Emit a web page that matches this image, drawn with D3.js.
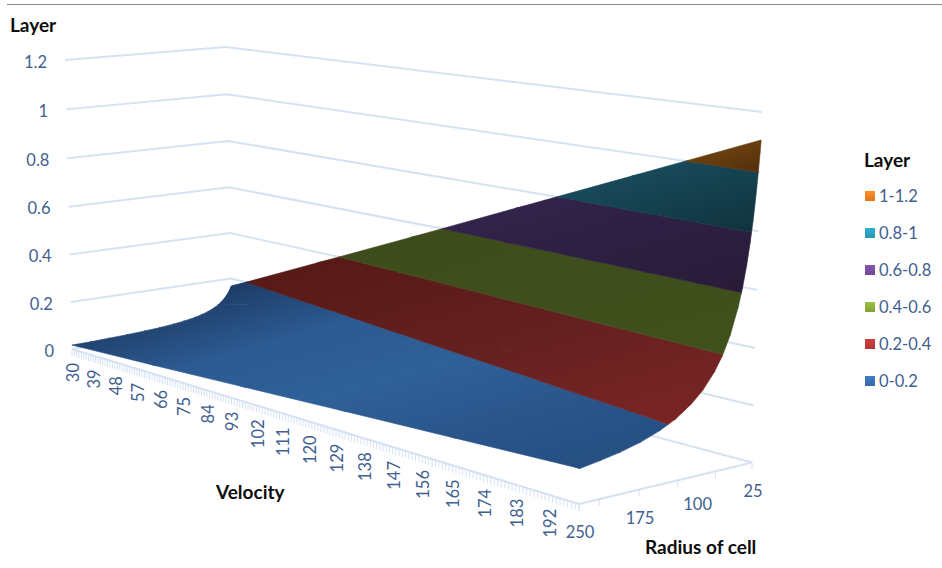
<!DOCTYPE html>
<html>
<head>
<meta charset="utf-8">
<style>
  html, body { margin: 0; padding: 0; background: #fff; }
  svg { display: block; }
  text { font-family: Lato, "Open Sans", sans-serif; }
</style>
</head>
<body>
<svg id="chart" width="942" height="568"></svg>
<script src="https://d3js.org/d3.v7.min.js"></script>
<script>
// Axis categories
const velocityLabels = [30, 39, 48, 57, 66, 75, 84, 93, 102, 111, 120, 129, 138, 147, 156, 165, 174, 183, 192];
const radiusLabels = [25, 100, 175, 250];
const radiusTicks = [25, 75, 125, 175, 225, 250];
const layerTicks = [0, 0.2, 0.4, 0.6, 0.8, 1, 1.2];

// Surface samples: one column per radius, one list per velocity
const radii = [25, 26, 28, 30, 33, 36, 40, 45, 50, 60, 70, 80, 95, 110, 130, 150, 175, 200, 225, 250];
const velocities = [30, 64, 98, 132, 166, 200];
const layerAt30  = [.166, .160, .148, .138, .126, .115, .104, .092, .083, .069, .059, .052, .044, .038, .032, .028, .024, .021, .018, .017];
const layerAt64  = [.354, .341, .316, .295, .268, .246, .222, .197, .177, .148, .127, .111, .093, .081, .068, .059, .051, .044, .039, .036];
const layerAt98  = [.542, .522, .484, .452, .411, .377, .339, .301, .271, .226, .194, .170, .143, .123, .104, .090, .077, .068, .060, .057];
const layerAt132 = [.731, .703, .652, .609, .554, .508, .457, .406, .365, .305, .261, .228, .192, .166, .141, .122, .104, .092, .084, .078];
const layerAt166 = [.919, .883, .820, .766, .696, .638, .574, .510, .459, .383, .328, .287, .242, .209, .177, .153, .132, .117, .106, .098];
const layerAt200 = [1.107, 1.065, .989, .923, .839, .769, .692, .615, .554, .461, .395, .346, .291, .252, .213, .185, .160, .142, .129, .118];
const layerRows = [layerAt30, layerAt64, layerAt98, layerAt132, layerAt166, layerAt200];

// Bands, bottom to top
const bandNames = ["0-0.2", "0.2-0.4", "0.4-0.6", "0.6-0.8", "0.8-1", "1-1.2"];
const bandFloors = [0, 0.2, 0.4, 0.6, 0.8, 1];
const bandCeilings = [0.2, 0.4, 0.6, 0.8, 1, 1.2];
const legendColors = ["#3a73b5", "#c23a3a", "#8fb13c", "#7a4fa2", "#2ba3c2", "#f08224"];
const bandShades = [
  ["#1d3c66", "#2c5a92", "#2f6098", "#2a568c", "#264f82"],
  ["#571a16", "#642020", "#7a2424"],
  ["#3e4c1c", "#40511c"],
  ["#31234a", "#291b38"],
  ["#18495a", "#10343e"],
  ["#6a400f", "#55300c"]
];

const svg = d3.select("#chart");
const inkBlue = "#3f6090";
const gridBlue = "#d6e2f3";

// Normalised positions along each dimension of the box
const velocityScale = d3.scaleLinear().domain([30, 200]).range([0, 1]);
const radiusScale = d3.scaleLinear().domain([25, 250]).range([0, 1]);
const layerScale = d3.scaleLinear().domain([0, 1.2]).range([0, 1]);

// Corners of the box: [back, far end of velocity, near corner, far end of radius]
const floorQuad = [[232, 323.4], [752, 462.5], [579, 504], [72, 349]];
const ceilingQuad = [[226, 47], [762, 112], [589, 132.7], [65, 60]];

// Perspective map of the unit square onto a quadrilateral
function squareToQuad(q) {
  const [[x0, y0], [x1, y1], [x2, y2], [x3, y3]] = q;
  const dx1 = x1 - x2, dx2 = x3 - x2, sx = x0 - x1 + x2 - x3;
  const dy1 = y1 - y2, dy2 = y3 - y2, sy = y0 - y1 + y2 - y3;
  const den = dx1 * dy2 - dx2 * dy1;
  const g = (sx * dy2 - dx2 * sy) / den;
  const h = (dx1 * sy - sx * dy1) / den;
  const a = x1 - x0 + g * x1, b = x3 - x0 + h * x3;
  const d = y1 - y0 + g * y1, e = y3 - y0 + h * y3;
  return (u, w) => {
    const k = g * u + h * w + 1;
    return [(a * u + b * w + x0) / k, (d * u + e * w + y0) / k];
  };
}
const onFloor = squareToQuad(floorQuad);
const onCeiling = squareToQuad(ceilingQuad);

// Screen position of (velocity fraction, radius fraction, layer value)
function project(u, w, layer) {
  const t = layerScale(layer);
  const s = t * (1 - 0.03 * (1 - t));
  const f = onFloor(u, w), c = onCeiling(u, w);
  return [f[0] + (c[0] - f[0]) * s, f[1] + (c[1] - f[1]) * s];
}

const polyline = d3.line();

// Layer gridlines across the two back walls
svg.append("g").selectAll("path").data(layerTicks).join("path")
  .attr("d", l => polyline([project(0, 1, l), project(0, 0, l), project(1, 0, l)]))
  .attr("fill", "none")
  .attr("stroke", gridBlue)
  .attr("stroke-width", 2);

// Velocity axis with a tick for every unit
const velocityAxis = svg.append("g");
velocityAxis.append("path")
  .attr("d", polyline([project(0, 1, 0), project(1, 1, 0)]))
  .attr("fill", "none").attr("stroke", gridBlue).attr("stroke-width", 2);
velocityAxis.selectAll("line").data(d3.range(30, 201)).join("line")
  .each(function (v) {
    const p = project(velocityScale(v), 1, 0);
    d3.select(this).attr("x1", p[0]).attr("y1", p[1]).attr("x2", p[0]).attr("y2", p[1] + 7);
  })
  .attr("stroke", gridBlue).attr("stroke-width", 1);
velocityAxis.selectAll("text").data(velocityLabels).join("text")
  .attr("transform", v => {
    const p = project(velocityScale(v), 1, 0);
    return `translate(${p[0] + 1},${p[1] + 14}) rotate(-90)`;
  })
  .attr("text-anchor", "end")
  .attr("dominant-baseline", "central")
  .attr("font-size", 16.5)
  .attr("fill", inkBlue)
  .text(v => v);

// Radius axis
const radiusAxis = svg.append("g");
radiusAxis.append("path")
  .attr("d", polyline([project(1, 0, 0), project(1, 1, 0)]))
  .attr("fill", "none").attr("stroke", gridBlue).attr("stroke-width", 2);
radiusAxis.selectAll("line").data(radiusTicks).join("line")
  .each(function (r) {
    const p = project(1, radiusScale(r), 0);
    d3.select(this).attr("x1", p[0]).attr("y1", p[1]).attr("x2", p[0]).attr("y2", p[1] + 7);
  })
  .attr("stroke", gridBlue).attr("stroke-width", 1);
radiusAxis.selectAll("text").data(radiusLabels).join("text")
  .attr("x", r => project(1, radiusScale(r), 0)[0] + 1)
  .attr("y", r => project(1, radiusScale(r), 0)[1] + 28)
  .attr("text-anchor", "middle")
  .attr("dominant-baseline", "central")
  .attr("font-size", 16.5)
  .attr("fill", inkBlue)
  .text(r => r);

// Layer axis labels
svg.append("g").selectAll("text").data(layerTicks).join("text")
  .attr("x", l => project(0, 1, l)[0] - 18)
  .attr("y", l => project(0, 1, l)[1] + 1.5)
  .attr("text-anchor", "end")
  .attr("dominant-baseline", "central")
  .attr("font-size", 16.5)
  .attr("fill", inkBlue)
  .text(l => l);

// Surface vertices in [u, w, layer]
const vertex = (i, j) => [velocityScale(velocities[i]), radiusScale(radii[j]), layerRows[i][j]];

// Clip a triangle to one side of a layer level
function clipLevel(poly, level, keepAbove) {
  const out = [];
  const inside = p => keepAbove ? p[2] >= level : p[2] <= level;
  poly.forEach((a, k) => {
    const b = poly[(k + 1) % poly.length];
    if (inside(a)) out.push(a);
    if (inside(a) !== inside(b)) {
      const t = (level - a[2]) / (b[2] - a[2]);
      out.push([a[0] + (b[0] - a[0]) * t, a[1] + (b[1] - a[1]) * t, level]);
    }
  });
  return out;
}

function bandPolygons(lo, hi) {
  const polys = [];
  for (let i = 0; i < velocities.length - 1; i++) {
    for (let j = 0; j < radii.length - 1; j++) {
      const a = vertex(i, j), b = vertex(i + 1, j), c = vertex(i + 1, j + 1), d = vertex(i, j + 1);
      [[a, b, c], [a, c, d]].forEach(tri => {
        const clipped = clipLevel(clipLevel(tri, lo, true), hi, false);
        if (clipped.length > 2) polys.push(clipped.map(p => project(p[0], p[1], p[2])));
      });
    }
  }
  return polys;
}

// Filled bands, each shaded across the slope of the surface; the stroke sits
// under the fill so that cell joins stay closed
const defs = svg.append("defs");
const shadeDirection = [0.27, 0.96];
const surface = svg.append("g");
bandNames.forEach((name, b) => {
  const polys = bandPolygons(bandFloors[b], bandCeilings[b]);
  const along = polys.flat().map(p => p[0] * shadeDirection[0] + p[1] * shadeDirection[1]);
  const [from, to] = d3.extent(along);
  const gradient = defs.append("linearGradient")
    .attr("id", "band" + b)
    .attr("gradientUnits", "userSpaceOnUse")
    .attr("x1", from * shadeDirection[0]).attr("y1", from * shadeDirection[1])
    .attr("x2", to * shadeDirection[0]).attr("y2", to * shadeDirection[1]);
  const shades = bandShades[b];
  gradient.selectAll("stop").data(shades).join("stop")
    .attr("offset", (d, i) => i / (shades.length - 1))
    .attr("stop-color", d => d);
  surface.append("path")
    .attr("d", polys.map(p => polyline(p) + "Z").join(""))
    .attr("fill", `url(#band${b})`)
    .attr("stroke", `url(#band${b})`)
    .attr("stroke-width", 0.6)
    .attr("stroke-linejoin", "round")
    .style("paint-order", "stroke");
});

// Rule across the top
svg.append("line")
  .attr("x1", 7).attr("x2", 942).attr("y1", 4.5).attr("y2", 4.5)
  .attr("stroke", "#858585").attr("stroke-width", 1.2);

// Axis titles
const titles = [
  { text: "Layer", x: 10, y: 32 },
  { text: "Velocity", x: 216, y: 499 },
  { text: "Radius of cell", x: 645, y: 554 },
  { text: "Layer", x: 864, y: 167 }
];
svg.append("g").selectAll("text").data(titles).join("text")
  .attr("x", d => d.x).attr("y", d => d.y)
  .attr("font-size", 19).attr("font-weight", 700).attr("fill", "#0d0d0d")
  .text(d => d.text);

// Legend, top band first
const legendOrder = d3.range(bandNames.length).reverse();
const legendY = d3.scalePoint().domain(legendOrder).range([196, 381]);
const legend = svg.append("g");
legendOrder.forEach(b => {
  const g = defs.append("linearGradient").attr("id", "swatch" + b)
    .attr("x1", 0).attr("y1", 0).attr("x2", 0).attr("y2", 1);
  g.append("stop").attr("offset", 0).attr("stop-color", d3.color(legendColors[b]).brighter(0.25));
  g.append("stop").attr("offset", 1).attr("stop-color", d3.color(legendColors[b]).darker(0.25));
});
legend.selectAll("rect").data(legendOrder).join("rect")
  .attr("x", 865).attr("y", b => legendY(b) - 5)
  .attr("width", 10).attr("height", 10)
  .attr("fill", b => `url(#swatch${b})`);
legend.selectAll("text").data(legendOrder).join("text")
  .attr("x", 879).attr("y", b => legendY(b))
  .attr("dominant-baseline", "central")
  .attr("font-size", 16.5)
  .attr("fill", inkBlue)
  .text(b => bandNames[b]);
</script>
</body>
</html>
